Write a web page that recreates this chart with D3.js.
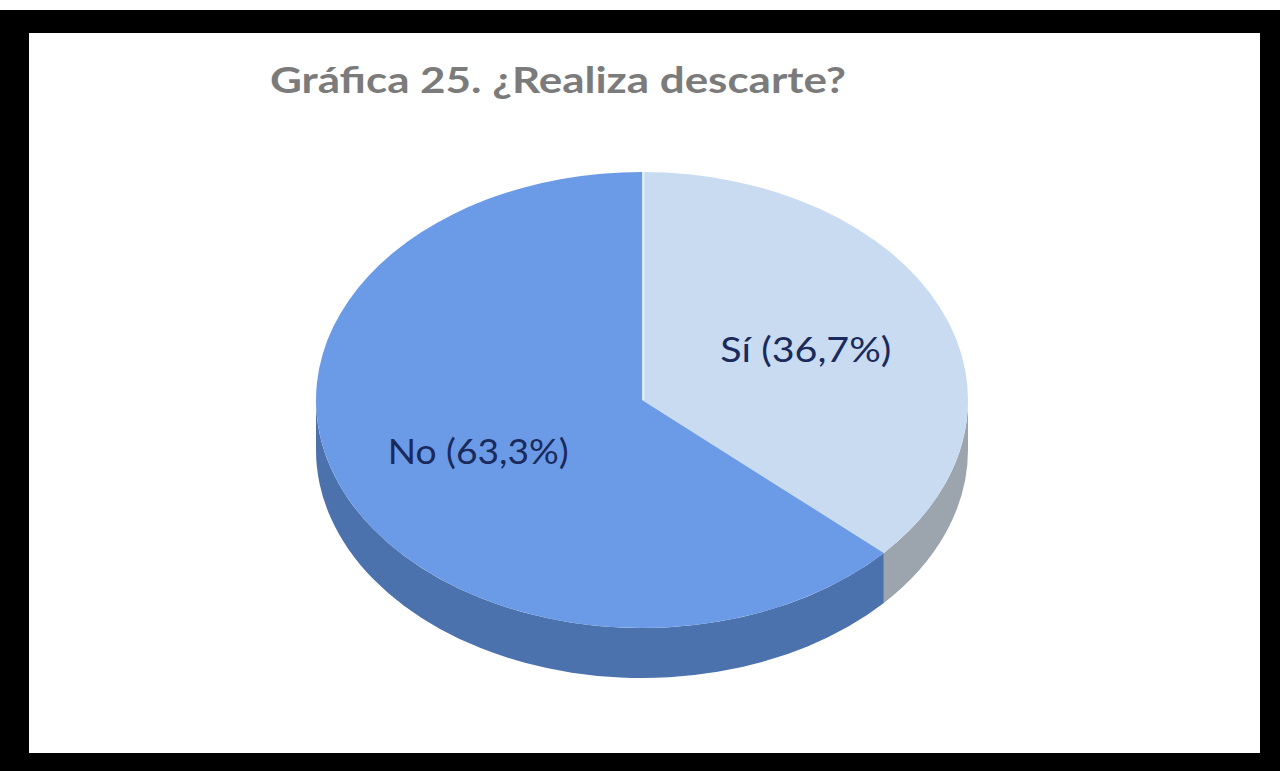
<!DOCTYPE html>
<html>
<head>
<meta charset="utf-8">
<script src="https://cdn.jsdelivr.net/npm/d3@7"></script>
<style>
  html, body { margin: 0; padding: 0; background: #fff; }
  svg { display: block; }
</style>
</head>
<body>
<svg id="chart" width="1280" height="771"></svg>
<script>
// Survey answers and their shares (percent)
const categories = ["Sí", "No"];
const values = [36.7, 63.3];
const chartTitle = "Gráfica 25. ¿Realiza descarte?";

const topColors  = { "Sí": "#c8dbf1", "No": "#6b9be6" };
const sideColors = { "Sí": "#9ca5ae", "No": "#4b72ad" };

const W = 1280, H = 771;
const svg = d3.select("#chart");

// Black frame around a white panel
svg.append("rect").attr("x", 0).attr("y", 10).attr("width", W).attr("height", H - 10).attr("fill", "#000");
svg.append("rect").attr("x", 29).attr("y", 33).attr("width", 1231).attr("height", 720).attr("fill", "#fff");

// Title
svg.append("text")
  .attr("x", 270).attr("y", 93)
  .attr("font-family", "Lato, 'Open Sans', sans-serif")
  .attr("font-weight", 700)
  .attr("font-size", 37)
  .attr("fill", "#7b7b7b")
  .attr("textLength", 576)
  .attr("lengthAdjust", "spacingAndGlyphs")
  .text(chartTitle);

// 3D pie geometry
const cx = 642, cy = 400, rx = 326, ry = 228, depth = 50;
const k = ry / rx;

const data = categories.map((c, i) => ({ cat: c, value: values[i] }));
const pie = d3.pie().value(d => d.value).sort(null);
const arcs = pie(data);

const pt = (a, dy = 0) => [cx + rx * Math.sin(a), cy - ry * Math.cos(a) + dy];

// Front walls: only the part of each slice facing the viewer (angles in [PI/2, 3PI/2])
const wallG = svg.append("g");
arcs.forEach(a => {
  const a0 = Math.max(a.startAngle, Math.PI / 2);
  const a1 = Math.min(a.endAngle, 3 * Math.PI / 2);
  if (a1 <= a0) return;
  const p0 = pt(a0), p1 = pt(a1), q1 = pt(a1, depth), q0 = pt(a0, depth);
  const large = (a1 - a0) > Math.PI ? 1 : 0;
  const d = `M${p0}A${rx},${ry} 0 ${large} 1 ${p1}L${q1}A${rx},${ry} 0 ${large} 0 ${q0}Z`;
  wallG.append("path").attr("d", d).attr("fill", sideColors[a.data.cat]);
});

// Top face, drawn as a circle pie squashed vertically
const arc = d3.arc().innerRadius(0).outerRadius(rx);
const topG = svg.append("g").attr("transform", `translate(${cx},${cy}) scale(1,${k})`);
topG.selectAll("path").data(arcs).join("path")
  .attr("d", arc)
  .attr("fill", d => topColors[d.data.cat]);

// Thin highlight along the Sí slice's vertical edge
svg.append("line")
  .attr("x1", cx + 1.5).attr("y1", cy).attr("x2", cx + 1.5).attr("y2", cy - ry)
  .attr("stroke", "#e4eefa").attr("stroke-width", 2);

// Labels at the slice centroids
const labelArc = d3.arc().innerRadius(rx * 0.55).outerRadius(rx * 0.55);
const labelWidths = { "Sí": 171, "No": 181 };
svg.append("g").selectAll("text").data(arcs).join("text")
  .attr("transform", d => {
    const [x, y] = labelArc.centroid(d);
    return `translate(${cx + x},${cy + y * k + 13})`;
  })
  .attr("text-anchor", "middle")
  .attr("font-family", "Lato, 'Open Sans', sans-serif")
  .attr("font-size", 35)
  .attr("fill", "#1b2a5c")
  .attr("textLength", d => labelWidths[d.data.cat])
  .attr("lengthAdjust", "spacingAndGlyphs")
  .text(d => `${d.data.cat} (${String(d.data.value).replace(".", ",")}%)`);
</script>
</body>
</html>
